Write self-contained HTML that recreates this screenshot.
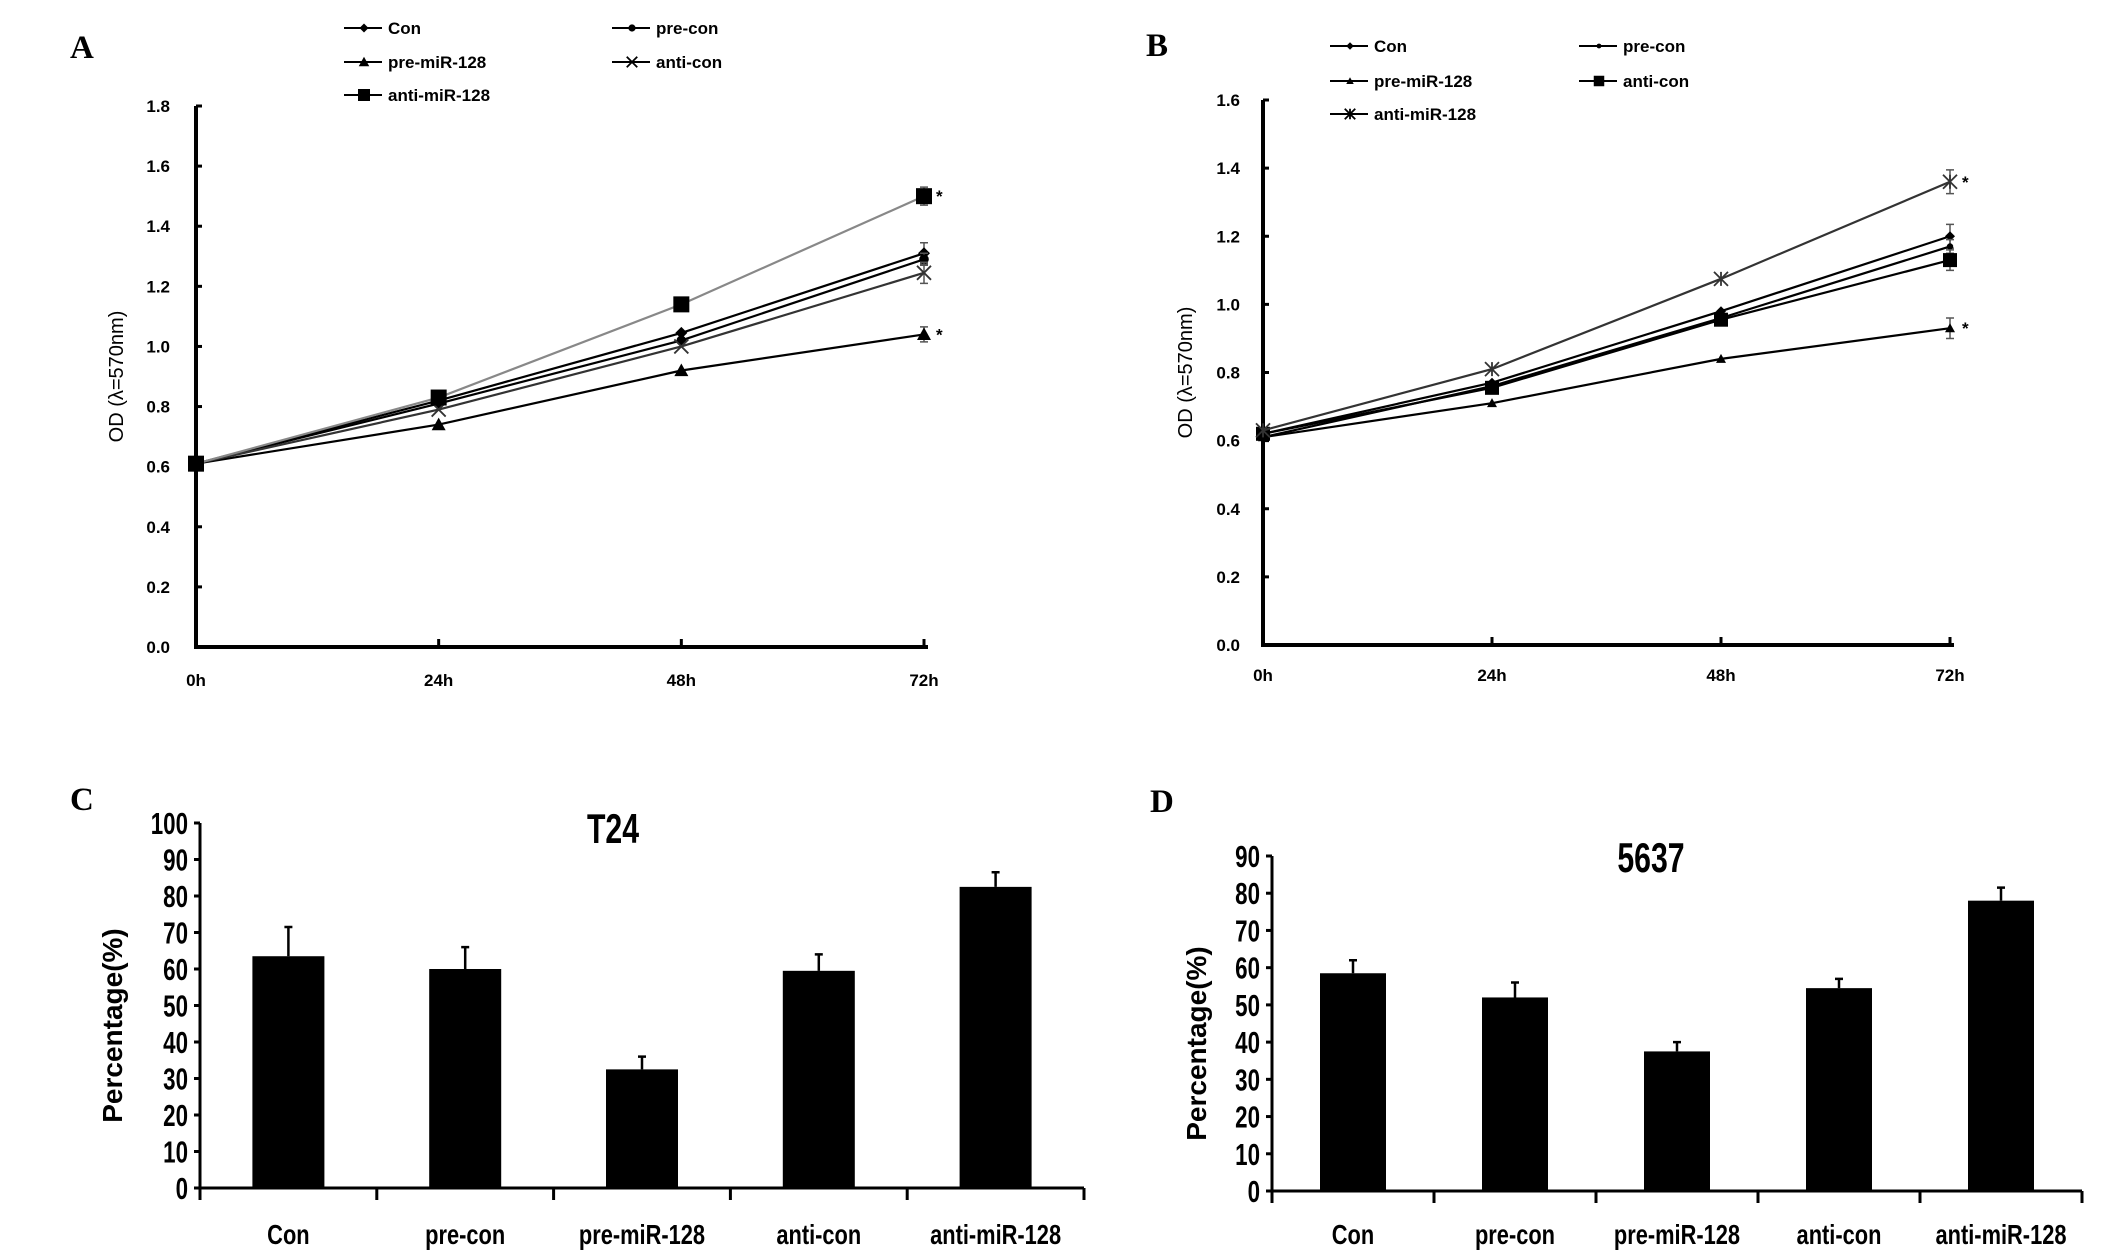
<!DOCTYPE html>
<html><head><meta charset="utf-8"><style>
html,body{margin:0;padding:0;background:#fff;}
svg{display:block;}
text{font-family:"Liberation Sans",sans-serif;fill:#000;}
</style></head><body>
<svg id="fig" width="2126" height="1251" viewBox="0 0 2126 1251" xmlns="http://www.w3.org/2000/svg">
<g id="pA"></g>
<g id="pB"></g>
<g id="pC"></g>
<g id="pD"></g>
</svg>
<script>
// ---- line chart data ----
const timeLabels = ["0h","24h","48h","72h"];
const seriesNames = ["Con","pre-con","pre-miR-128","anti-con","anti-miR-128"];
const aCon = [0.61,0.82,1.045,1.31];
const aPreCon = [0.61,0.81,1.02,1.29];
const aPreMiR = [0.61,0.74,0.92,1.04];
const aAntiCon = [0.61,0.79,1.00,1.245];
const aAntiMiR = [0.61,0.83,1.14,1.50];
const aErr72 = [0.035,0.02,0.025,0.035,0.03];
const aTicks = ["0.0","0.2","0.4","0.6","0.8","1.0","1.2","1.4","1.6","1.8"];
const bCon = [0.62,0.77,0.98,1.20];
const bPreCon = [0.61,0.76,0.96,1.17];
const bPreMiR = [0.61,0.71,0.84,0.93];
const bAntiCon = [0.62,0.755,0.955,1.13];
const bAntiMiR = [0.63,0.81,1.075,1.36];
const bErr72 = [0.035,0.02,0.03,0.03,0.035];
const bTicks = ["0.0","0.2","0.4","0.6","0.8","1.0","1.2","1.4","1.6"];
// ---- bar chart data ----
const barCats = ["Con","pre-con","pre-miR-128","anti-con","anti-miR-128"];
const cVals = [63.5,60,32.5,59.5,82.5];
const cErr = [8,6,3.5,4.5,4];
const cTicks = ["0","10","20","30","40","50","60","70","80","90","100"];
const dVals = [58.5,52,37.5,54.5,78];
const dErr = [3.5,4,2.5,2.5,3.5];
const dTicks = ["0","10","20","30","40","50","60","70","80","90"];

const NS="http://www.w3.org/2000/svg";
function mk(p,tag,at,txt){const e=document.createElementNS(NS,tag);for(const k in at)e.setAttribute(k,at[k]);if(txt!==undefined)e.textContent=txt;p.appendChild(e);return e;}

function marker(g,type,x,y,s,col){
  let e;
  if(type==="diamond"){e=mk(g,"polygon",{points:`${x},${y-s} ${x+s},${y} ${x},${y+s} ${x-s},${y}`,fill:col});}
  else if(type==="circle"){e=mk(g,"circle",{cx:x,cy:y,r:s*0.8,fill:col});}
  else if(type==="triangle"){e=mk(g,"polygon",{points:`${x},${y-s} ${x+s},${y+s*0.8} ${x-s},${y+s*0.8}`,fill:col});}
  else if(type==="square"){e=mk(g,"rect",{x:x-s,y:y-s,width:2*s,height:2*s,fill:col});}
  else if(type==="x"){e=mk(g,"path",{d:`M${x-s} ${y-s}L${x+s} ${y+s}M${x-s} ${y+s}L${x+s} ${y-s}`,stroke:col,"stroke-width":1.8,fill:"none"});}
  else if(type==="star"){e=mk(g,"path",{d:`M${x-s} ${y-s}L${x+s} ${y+s}M${x-s} ${y+s}L${x+s} ${y-s}M${x} ${y-s}L${x} ${y+s}`,stroke:col,"stroke-width":1.8,fill:"none"});}
  
  
  return e;
}

function letterText(g,l){
  const L=mk(g,"text",{x:l[0],y:l[1],style:"font-family:'Liberation Serif',serif;font-weight:bold;font-size:33px"},l[2]);
  
}

function lineChart(g,cfg){
  const {x0,x1,y0,y1,ymax,ticks,series,types,cols,errs,stars,legend,letter,tickLx,xLy,titleX,sizes}=cfg;
  const xs=i=>x0+(x1-x0)*i/(timeLabels.length-1);
  const ys=v=>y0-(y0-y1)*v/ymax;
  letterText(g,letter);
  const ax=mk(g,"path",{d:`M${x0} ${y1}L${x0} ${y0}L${x1+4} ${y0}`,stroke:"#000","stroke-width":4,fill:"none"});
  
  ticks.forEach((t,i)=>{const v=ymax*i/(ticks.length-1),y=ys(v);
    mk(g,"line",{x1:x0,x2:x0+6,y1:y,y2:y,stroke:"#000","stroke-width":3});
    const tl=mk(g,"text",{x:tickLx,y:y+6,"text-anchor":"end","font-weight":"bold","font-size":17},t);
    });
  timeLabels.forEach((t,i)=>{const x=xs(i);
    mk(g,"line",{x1:x,x2:x,y1:y0,y2:y0-8,stroke:"#000","stroke-width":3});
    const tl=mk(g,"text",{x:x,y:xLy,"text-anchor":"middle","font-weight":"bold","font-size":17},t);
    });
  const yt=mk(g,"text",{x:titleX,y:(y0+y1)/2,"text-anchor":"middle","font-size":20,transform:`rotate(-90 ${titleX} ${(y0+y1)/2})`},"OD (\u03bb=570nm)");
  
  series.forEach((vals,si)=>{
    const sg=mk(g,"g",{});
    
    
    mk(sg,"polyline",{points:vals.map((v,i)=>xs(i)+","+ys(v)).join(" "),fill:"none",stroke:cols[si],"stroke-width":2.2});
    const last=vals.length-1,ex=xs(last),e=errs[si];
    mk(sg,"path",{d:`M${ex} ${ys(vals[last]+e)}L${ex} ${ys(vals[last]-e)}M${ex-4} ${ys(vals[last]+e)}L${ex+4} ${ys(vals[last]+e)}M${ex-4} ${ys(vals[last]-e)}L${ex+4} ${ys(vals[last]-e)}`,stroke:"#555","stroke-width":1.5,fill:"none"});
    vals.forEach((v,i)=>marker(sg,types[si],xs(i),ys(v),sizes[si],cols[si]==="#888"?"#000":cols[si]));
    if(stars[si]){const s=mk(sg,"text",{x:ex+12,y:ys(vals[last])+6,"font-weight":"bold","font-size":17},"*");
      }
  });
  legend.forEach((p,si)=>{
    const lg=mk(g,"g",{});
    
    
    mk(lg,"line",{x1:p[0]-20,x2:p[0]+18,y1:p[1],y2:p[1],stroke:"#000","stroke-width":2});
    marker(lg,types[si],p[0],p[1],sizes[si]*0.75,"#000");
    mk(lg,"text",{x:p[0]+24,y:p[1]+6,"font-weight":"bold","font-size":17},seriesNames[si]);
  });
}

lineChart(document.getElementById("pA"),{x0:196,x1:924,y0:647,y1:106,ymax:1.8,ticks:aTicks,
  series:[aCon,aPreCon,aPreMiR,aAntiCon,aAntiMiR],types:["diamond","circle","triangle","x","square"],
  cols:["#000","#000","#000","#333","#888"],errs:aErr72,stars:[0,0,1,0,1],sizes:[6,6,7,7,8],
  legend:[[364,28],[632,28],[364,62],[632,62],[364,95]],letter:[70,58,"A"],tickLx:170,xLy:686,titleX:123});
lineChart(document.getElementById("pB"),{x0:1263,x1:1950,y0:645,y1:100,ymax:1.6,ticks:bTicks,
  series:[bCon,bPreCon,bPreMiR,bAntiCon,bAntiMiR],types:["diamond","circle","triangle","square","star"],
  cols:["#000","#000","#000","#000","#333"],errs:bErr72,stars:[0,0,1,0,1],sizes:[5,4,5,7,7],
  legend:[[1350,46],[1599,46],[1350,81],[1599,81],[1350,114]],letter:[1146,56,"B"],tickLx:1240,xLy:681,titleX:1192});

function barChart(g,cfg){
  const {x0,x1,y0,y1,ymax,ticks,vals,errs,bw,letter,title,catY,ytX}=cfg;
  const slot=(x1-x0)/barCats.length;
  const ys=v=>y0-(y0-y1)*v/ymax;
  letterText(g,letter);
  const T=mk(g,"text",{x:title[0],y:title[1],"text-anchor":"middle","font-size":42,"font-weight":"bold",transform:`translate(${title[0]} 0) scale(0.72 1) translate(${-title[0]} 0)`},title[2]);
  
  const ax=mk(g,"path",{d:`M${x0} ${y1}L${x0} ${y0}L${x1} ${y0}`,stroke:"#000","stroke-width":3,fill:"none"});
  
  ticks.forEach((t,i)=>{const y=ys(ymax*i/(ticks.length-1));
    mk(g,"line",{x1:x0-6,x2:x0,y1:y,y2:y,stroke:"#000","stroke-width":3});
    const tl=mk(g,"text",{x:x0-12,y:y+11,"text-anchor":"end","font-weight":"bold","font-size":31,transform:`translate(${x0-12} 0) scale(0.72 1) translate(${-(x0-12)} 0)`},t);
    });
  for(let i=0;i<=barCats.length;i++){const x=x0+slot*i;mk(g,"line",{x1:x,x2:x,y1:y0,y2:y0+12,stroke:"#000","stroke-width":3});}
  const yt=mk(g,"text",{x:ytX,y:(y0+y1)/2+20,"text-anchor":"middle","font-weight":"bold","font-size":28,transform:`rotate(-90 ${ytX} ${(y0+y1)/2+20})`},"Percentage(%)");
  
  vals.forEach((v,i)=>{const cx=x0+slot*(i+0.5);
    const b=mk(g,"rect",{x:cx-bw/2,y:ys(v),width:bw,height:y0-ys(v),fill:"#000"});
    
    
    const ey=ys(v+errs[i]);
    const eb=mk(g,"path",{d:`M${cx} ${ys(v)}L${cx} ${ey}M${cx-4} ${ey}L${cx+4} ${ey}`,stroke:"#000","stroke-width":2.5,fill:"none"});
    
    const cl=mk(g,"text",{x:cx,y:catY,"text-anchor":"middle","font-weight":"bold","font-size":28,transform:`translate(${cx} 0) scale(0.78 1) translate(${-cx} 0)`},barCats[i]);
    
  });
}
barChart(document.getElementById("pC"),{x0:200,x1:1084,y0:1188,y1:823,ymax:100,ticks:cTicks,vals:cVals,errs:cErr,bw:72,
  letter:[70,810,"C"],title:[613,843,"T24"],catY:1244,ytX:122});
barChart(document.getElementById("pD"),{x0:1272,x1:2082,y0:1191,y1:856,ymax:90,ticks:dTicks,vals:dVals,errs:dErr,bw:66,
  letter:[1150,812,"D"],title:[1651,872,"5637"],catY:1244,ytX:1206});
</script>
</body></html>
